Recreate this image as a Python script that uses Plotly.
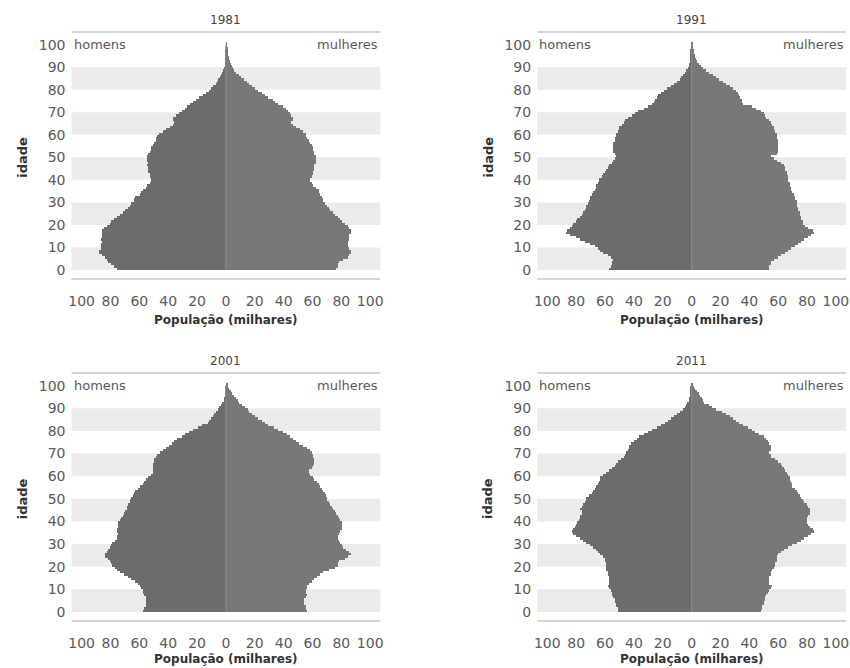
import plotly.graph_objects as go

ages = list(range(101))
years = ["1981", "1991", "2001", "2011"]

men_1981 = [76, 78, 80, 82, 83, 84, 86, 88, 88, 87,
            87, 87, 86, 87, 86, 86, 86, 86, 85, 83,
            81, 80, 78, 76, 74, 72, 70, 68, 67, 66,
            64, 64, 63, 60, 59, 58, 56, 55, 53, 52,
            52, 53, 53, 54, 54, 54, 55, 54, 55, 55,
            55, 54, 53, 52, 52, 51, 50, 49, 49, 48,
            47, 44, 42, 39, 37, 36, 37, 37, 35, 33,
            31, 29, 27, 25, 23, 21, 19, 16, 14, 12,
            11, 9, 7.5, 6.5, 5.5, 4.6, 3.8, 3, 2.3, 1.7,
            1.2, 0.9, 0.7, 0.6, 0.5, 0.4, 0.3, 0.3, 0.2, 0.2, 0.1]
women_1981 = [76, 77, 77, 78, 81, 84, 85, 86, 86, 85,
              84, 84, 84, 85, 85, 85, 86, 86, 85, 84,
              82, 80, 79, 77, 75, 74, 72, 71, 70, 68,
              67, 67, 66, 65, 64, 64, 62, 60, 59, 58,
              58, 59, 60, 60, 61, 61, 61, 62, 62, 62,
              62, 61, 61, 60, 60, 59, 58, 57, 56, 55,
              55, 53, 51, 48, 46, 45, 46, 46, 45, 44,
              43, 41, 39, 36, 34, 32, 29, 27, 25, 22,
              20, 18, 16, 14, 12, 10, 8.5, 6.8, 5.3, 4.4,
              3.7, 3, 2.5, 2, 1.7, 1.4, 1.1, 0.9, 0.7, 0.4, 0.2]

men_1991 = [57, 56, 55, 55, 54, 56, 58, 61, 63, 65,
            67, 70, 74, 77, 80, 84, 87, 86, 84, 83,
            82, 80, 79, 77, 76, 75, 74, 73, 73, 72,
            71, 70, 70, 69, 68, 67, 66, 66, 65, 64,
            64, 62, 61, 60, 59, 58, 57, 55, 54, 53,
            52, 53, 54, 54, 54, 54, 54, 53, 53, 52,
            52, 51, 50, 50, 48, 47, 46, 44, 41, 39,
            37, 33, 30, 27, 26, 25, 24, 23, 21, 19,
            17, 14, 12, 10, 8, 7, 5.5, 4.3, 3.5, 2.5,
            1.8, 1.4, 1.1, 0.9, 0.7, 0.5, 0.4, 0.3, 0.2, 0.2, 0.1]
women_1991 = [54, 54, 55, 55, 57, 60, 62, 65, 67, 69,
              72, 74, 76, 78, 81, 83, 85, 84, 81, 79,
              77, 77, 76, 76, 75, 75, 74, 74, 73, 73,
              73, 72, 72, 71, 70, 69, 69, 68, 68, 67,
              67, 67, 66, 66, 65, 65, 64, 62, 59, 57,
              55, 59, 60, 60, 60, 60, 60, 60, 59, 59,
              59, 58, 57, 57, 56, 55, 54, 52, 51, 50,
              48, 45, 42, 36, 35, 35, 34, 33, 32, 31,
              29, 27, 24, 22, 19, 17, 15, 12, 10, 8,
              6.5, 5.3, 4.2, 3.5, 2.8, 2.3, 1.9, 1.5, 1.2, 0.8, 0.5]

men_2001 = [58, 57, 56, 56, 56, 56, 56, 57, 58, 58,
            59, 60, 61, 63, 66, 68, 71, 74, 76, 77,
            79, 80, 81, 82, 84, 84, 83, 82, 81, 80,
            79, 77, 76, 76, 75, 76, 76, 75, 75, 75,
            74, 73, 72, 71, 70, 69, 69, 68, 67, 67,
            66, 65, 64, 63, 61, 60, 58, 57, 56, 54,
            52, 51, 51, 51, 51, 51, 50, 50, 49, 48,
            46, 44, 42, 40, 38, 36, 34, 31, 29, 26,
            23, 20, 17, 13, 12, 11, 9.5, 8.5, 7, 6,
            5, 3.8, 2.8, 2, 1.5, 1.1, 0.8, 0.6, 0.5, 0.3, 0.2]
women_2001 = [56, 55, 55, 54, 54, 54, 55, 56, 55, 55,
              56, 56, 57, 59, 61, 63, 65, 67, 71, 75,
              77, 77, 78, 82, 84, 86, 85, 83, 81, 80,
              79, 78, 77, 77, 78, 79, 80, 80, 80, 80,
              79, 78, 77, 76, 75, 74, 73, 72, 71, 70,
              70, 69, 68, 67, 66, 65, 64, 63, 61, 60,
              58, 57, 57, 59, 60, 61, 61, 61, 60, 60,
              59, 58, 56, 53, 50, 48, 46, 44, 42, 39,
              36, 33, 29, 27, 25, 22, 20, 18, 16, 15,
              13, 11, 9, 8, 6.5, 5.3, 4, 3, 2, 1.3, 0.7]

men_2011 = [51, 51, 52, 52, 53, 53, 54, 55, 55, 56,
            57, 58, 57, 57, 57, 57, 58, 58, 59, 59,
            59, 59, 60, 60, 61, 63, 65, 66, 68, 70,
            73, 75, 77, 80, 82, 83, 82, 81, 80, 79,
            78, 77, 77, 76, 76, 77, 76, 75, 74, 73,
            73, 71, 69, 68, 67, 66, 65, 64, 63, 63,
            61, 59, 57, 55, 53, 52, 51, 49, 47, 46,
            45, 44, 43, 43, 42, 40, 38, 36, 33, 30,
            27, 24, 21, 18, 16, 14, 12, 10, 8, 6,
            4.6, 3.6, 2.8, 2, 1.5, 1.2, 0.9, 0.6, 0.4, 0.3, 0.2]
women_2011 = [48, 49, 49, 50, 50, 51, 51, 52, 53, 54,
              55, 56, 54, 54, 54, 54, 55, 55, 56, 57,
              58, 58, 59, 59, 59, 60, 62, 64, 67, 70,
              73, 76, 78, 81, 83, 85, 84, 82, 81, 80,
              80, 80, 81, 82, 82, 82, 81, 80, 78, 77,
              76, 75, 74, 73, 72, 70, 70, 69, 68, 68,
              67, 66, 65, 64, 63, 62, 60, 58, 55, 55,
              54, 55, 55, 55, 54, 53, 52, 50, 47, 44,
              42, 39, 36, 33, 31, 29, 27, 24, 21, 17,
              14, 12, 9, 8, 7, 6, 5, 3.8, 2.8, 2, 1.2]

x_tick_vals = [-100, -80, -60, -40, -20, 0, 20, 40, 60, 80, 100]
x_tick_text = ["100", "80", "60", "40", "20", "0", "20", "40", "60", "80", "100"]
y_tick_vals = list(range(0, 101, 10))
stripe_bands = [(0, 10), (20, 30), (40, 50), (60, 70), (80, 90)]

men_series = [men_1981, men_1991, men_2001, men_2011]
women_series = [women_1981, women_1991, women_2001, women_2011]

W, H = 850, 668
# panel plot-area pixel boxes: (left, right, top, bottom)
boxes = [(69, 380, 32, 279), (538, 849, 32, 279),
         (69, 380, 373, 621), (538, 849, 373, 621)]
xtitle_shift = [-41, -41, -38, -38]

MEN_COLOR = "#6c6c6c"
WOMEN_COLOR = "#787878"
FONT = "DejaVu Sans"
TXT = "#5a5a5a"

fig = go.Figure()
layout_axes = {}
shapes = []
annotations = []

for i in range(4):
    n = "" if i == 0 else str(i + 1)
    xa, ya = "x" + n, "y" + n
    l, r, t, b = boxes[i]
    fig.add_trace(go.Bar(x=[-v for v in men_series[i]], y=ages, orientation="h",
                         width=1, offset=0, marker=dict(color=MEN_COLOR, line_width=0),
                         xaxis=xa, yaxis=ya, hoverinfo="skip", showlegend=False))
    fig.add_trace(go.Bar(x=women_series[i], y=ages, orientation="h",
                         width=1, offset=0, marker=dict(color=WOMEN_COLOR, line_width=0),
                         xaxis=xa, yaxis=ya, hoverinfo="skip", showlegend=False))
    layout_axes["xaxis" + n] = dict(
        domain=[l / W, r / W], range=[-107, 107], anchor=ya,
        tickvals=x_tick_vals, ticktext=x_tick_text, ticks="",
        ticklabelstandoff=12, showgrid=False, zeroline=False, showline=False,
        tickfont=dict(family=FONT, size=14, color=TXT), fixedrange=True)
    layout_axes["yaxis" + n] = dict(
        domain=[1 - b / H, 1 - t / H], range=[-4, 105.6], anchor=xa,
        tickvals=y_tick_vals, ticks="", ticklabelstandoff=5,
        showgrid=False, zeroline=False, showline=False,
        tickfont=dict(family=FONT, size=14, color=TXT), fixedrange=True)
    for (a0, a1) in stripe_bands:
        shapes.append(dict(type="rect", xref=xa + " domain", yref=ya, x0=0, x1=1,
                           y0=a0, y1=a1, fillcolor="#ebebeb", line_width=0, layer="below"))
    for yy in (0, 1):
        shapes.append(dict(type="line", xref=xa + " domain", yref=ya + " domain",
                           x0=0, x1=1, y0=yy, y1=yy,
                           line=dict(color="#d6d6d6", width=2), layer="above"))
    shapes.append(dict(type="line", xref=xa, yref=ya, x0=0, x1=0, y0=0, y1=100,
                       line=dict(color="#8c8c8c", width=1), layer="above"))
    annotations += [
        dict(text=years[i], xref=xa + " domain", yref=ya + " domain", x=0.5, y=1,
             xanchor="center", yanchor="bottom", yshift=3, showarrow=False,
             font=dict(family=FONT, size=12, color="#444444")),
        dict(text="homens", xref=xa + " domain", yref=ya, x=0, y=100,
             xanchor="left", yanchor="middle", showarrow=False,
             font=dict(family=FONT, size=13, color=TXT)),
        dict(text="mulheres", xref=xa + " domain", yref=ya, x=1, y=100,
             xanchor="right", yanchor="middle", showarrow=False,
             font=dict(family=FONT, size=13, color=TXT)),
        dict(text="idade", xref=xa + " domain", yref=ya, x=0, y=50,
             xanchor="center", yanchor="middle", xshift=-49, textangle=-90,
             showarrow=False, font=dict(family=FONT, size=13, color="#333333", weight="bold")),
        dict(text="População (milhares)", xref=xa, yref=ya + " domain", x=0, y=0,
             xanchor="center", yanchor="middle", yshift=xtitle_shift[i], showarrow=False,
             font=dict(family=FONT, size=12, color="#333333", weight="bold")),
    ]

fig.update_layout(
    width=W, height=H, margin=dict(l=0, r=0, t=0, b=0),
    paper_bgcolor="white", plot_bgcolor="white",
    barmode="overlay", bargap=0,
    shapes=shapes, annotations=annotations, **layout_axes)

fig.write_html("out.html", config={"displayModeBar": False},
               post_script="document.body.style.margin='0';"
                           "document.body.style.overflow='hidden';")
